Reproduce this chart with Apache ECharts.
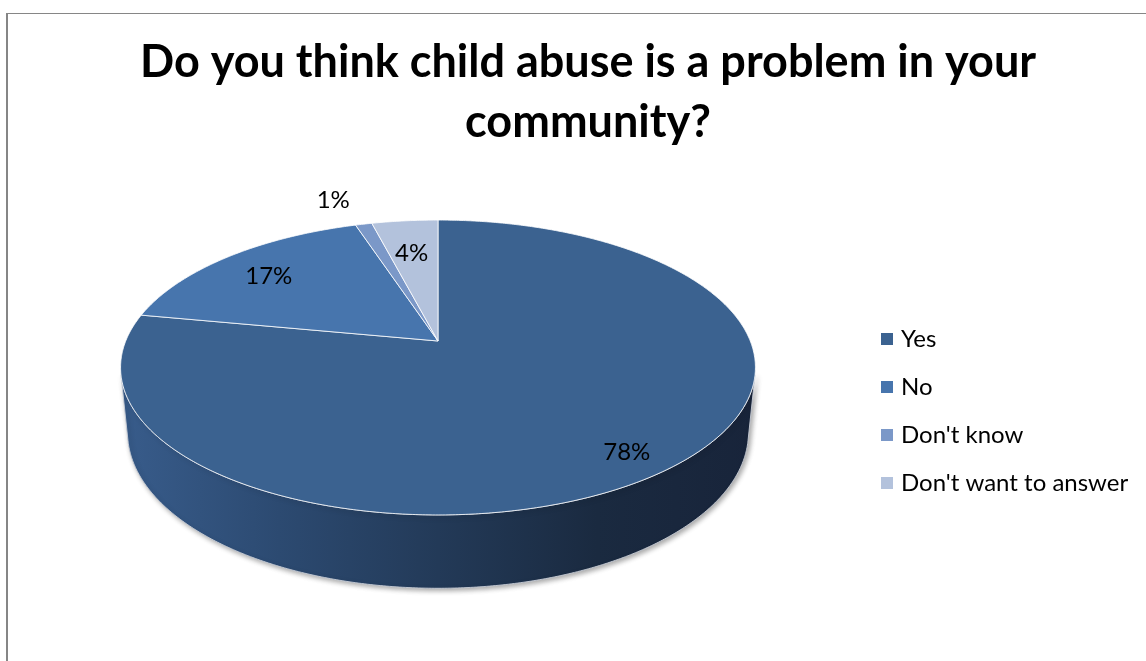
<!DOCTYPE html>
<html>
<head>
<meta charset="utf-8">
<script src="https://cdn.jsdelivr.net/npm/echarts@6/dist/echarts.min.js"></script>
<style>
  html, body { margin: 0; padding: 0; background: #ffffff; }
  #chart { width: 1146px; height: 661px; }
</style>
</head>
<body>
<div id="chart"></div>
<script>
// Survey answers
const titleText = 'Do you think child abuse is a problem in your\ncommunity?';
const categories = ['Yes', 'No', "Don't know", "Don't want to answer"];
const shares = [78, 17, 1, 4];
const sliceColors = ['#3B6290', '#4775AD', '#7B98C8', '#B3C2DC'];

// Pinhole camera that tilts the pie disc into a 3-D view
const view = {
  cx: 438, cy: 341,          // screen point of the disc centre
  focal: 1546,
  dist: 4.951,               // camera distance in disc radii
  tilt: 27.19 * Math.PI / 180,
  depth: 0.236               // pie thickness in disc radii
};

// Label placement per slice: radius on the disc and a small nudge
const labelSpots = [
  { r: 0.85, dx: -3, dy: 5 },
  { r: 0.78, dx: -2, dy: 3 },
  { r: 1.27, dx: -14, dy: 2 },
  { r: 0.70, dx: -2, dy: 0 }
];

const total = shares.reduce((a, b) => a + b, 0);
const startAngles = [];
shares.reduce((acc, v, i) => { startAngles[i] = acc; return acc + v; }, 0);

// theta: degrees clockwise from the far (top) point; r: radius; y: height
function project(thetaDeg, r, y) {
  const t = thetaDeg * Math.PI / 180;
  const x = r * Math.sin(t);
  const z = r * Math.cos(t);
  const c = Math.cos(view.tilt), s = Math.sin(view.tilt);
  const d = view.dist + z * c - y * s;
  return [view.cx + view.focal * x / d, view.cy - view.focal * (y * c + z * s) / d];
}

function arc(a0, a1, y) {
  const pts = [];
  const n = Math.max(2, Math.ceil(Math.abs(a1 - a0) / 0.5));
  for (let k = 0; k <= n; k++) pts.push(project(a0 + (a1 - a0) * k / n, 1, y));
  return pts;
}

// Visible part of the rim lies between the two silhouette angles
const silhouette = Math.acos(-1 / (view.dist * Math.cos(view.tilt))) * 180 / Math.PI;

function renderSlice(params, api) {
  const i = params.seriesIndex;
  const value = api.value(0);
  const a0 = startAngles[i] / total * 360;
  const a1 = a0 + value / total * 360;
  const children = [];

  // outer wall (front only)
  const w0 = Math.max(a0, silhouette), w1 = Math.min(a1, 360 - silhouette);
  if (w1 > w0) {
    const wall = arc(w0, w1, 0).concat(arc(w1, w0, -view.depth));
    children.push({
      type: 'polygon',
      z2: 0,
      shape: { points: wall },
      style: {
        fill: new echarts.graphic.LinearGradient(0, 0, 1, 0, [
          { offset: 0, color: '#385C8B' },
          { offset: 0.25, color: '#2C4A71' },
          { offset: 0.5, color: '#233A58' },
          { offset: 0.75, color: '#1A2A40' },
          { offset: 1, color: '#18243A' }
        ]),
        stroke: 'rgba(200,205,215,0.9)',
        lineWidth: 1,
        shadowColor: 'rgba(0,0,0,0.35)',
        shadowBlur: 5,
        shadowOffsetX: 2,
        shadowOffsetY: 2
      }
    });
  }

  // top face
  const top = [project(0, 0, 0)].concat(arc(a0, a1, 0));
  children.push({
    type: 'polygon',
    z2: 10,
    shape: { points: top },
    style: {
      fill: api.visual('color'),
      stroke: 'rgba(255,255,255,0.8)',
      lineWidth: 1,
      lineJoin: 'round'
    }
  });

  // percentage label
  const spot = labelSpots[i];
  const mid = (a0 + a1) / 2;
  const p = project(mid, spot.r, 0);
  children.push({
    type: 'text',
    z2: 20,
    style: {
      text: Math.round(value / total * 100) + '%',
      x: p[0] + spot.dx,
      y: p[1] + spot.dy,
      fill: '#000000',
      font: '24px Lato',
      align: 'center',
      verticalAlign: 'middle'
    }
  });

  return { type: 'group', children };
}

const chart = echarts.init(document.getElementById('chart'), null, { renderer: 'canvas' });
chart.setOption({
  backgroundColor: '#ffffff',
  animation: false,
  title: {
    text: titleText,
    left: 583,
    top: 27,
    textAlign: 'center',
    textStyle: {
      fontFamily: 'Lato',
      fontWeight: 'bold',
      fontSize: 45,
      lineHeight: 60,
      color: '#000000'
    }
  },
  legend: {
    orient: 'vertical',
    left: 876,
    top: 322,
    itemWidth: 12,
    itemHeight: 12,
    itemGap: 24,
    icon: 'rect',
    selectedMode: false,
    data: categories,
    textStyle: { fontFamily: 'Lato', fontSize: 24, lineHeight: 24, color: '#000000', padding: [0, 0, 0, 3] }
  },
  graphic: [
    { type: 'line', silent: true, shape: { x1: 7, y1: 13, x2: 7, y2: 661 }, style: { stroke: '#868686', lineWidth: 2 } },
    { type: 'line', silent: true, shape: { x1: 6, y1: 13.5, x2: 1146, y2: 13.5 }, style: { stroke: '#868686', lineWidth: 1 } }
  ],
  series: categories.map((name, i) => ({
    type: 'custom',
    name: name,
    coordinateSystem: 'none',
    silent: true,
    itemStyle: { color: sliceColors[i] },
    renderItem: renderSlice,
    data: [[shares[i]]]
  }))
});
</script>
</body>
</html>
